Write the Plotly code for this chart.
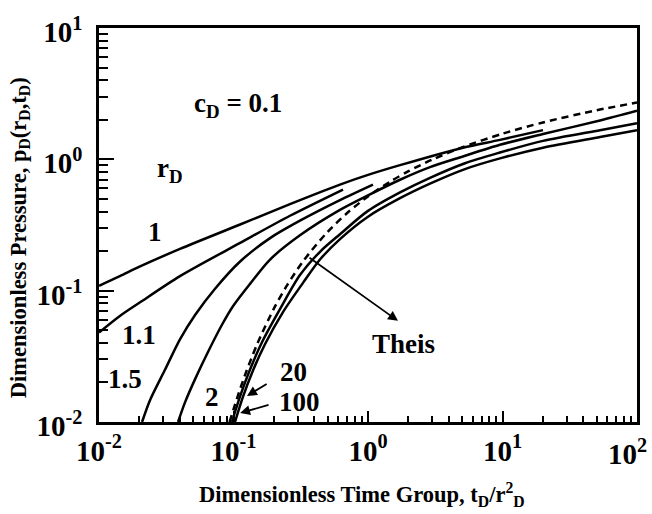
import numpy as np
import plotly.graph_objects as go

# ---- data (x = tD/rD^2, y = pD) ----
t_r1 = [0.01, 0.0143, 0.0202, 0.04, 0.112, 0.263, 0.619, 1.0, 1.73, 5.08, 9.58, 20.0]
p_r1 = [0.109, 0.129, 0.153, 0.208, 0.319, 0.456, 0.642, 0.761, 0.903, 1.227, 1.406, 1.668]

t_r11 = [0.01, 0.0143, 0.0202, 0.04, 0.112, 0.263, 0.652]
p_r11 = [0.048, 0.0642, 0.0815, 0.129, 0.231, 0.372, 0.589]

t_r15 = [0.0209, 0.0239, 0.031, 0.04, 0.0518, 0.0729, 0.112, 0.187, 0.312, 0.619, 1.089]
p_r15 = [0.0100, 0.0146, 0.0251, 0.0426, 0.0653, 0.1035, 0.1668, 0.2512, 0.341, 0.489, 0.642]

t_r2 = [0.0387, 0.0436, 0.0518, 0.0646, 0.0821, 0.0991, 0.1327, 0.187, 0.312, 0.619,
        1.035, 1.73, 2.89, 5.08, 9.58, 20.0, 53.1, 100.0]
p_r2 = [0.0100, 0.0141, 0.0212, 0.0341, 0.055, 0.0761, 0.1127, 0.1726, 0.264, 0.412,
        0.541, 0.699, 0.872, 1.052, 1.291, 1.558, 1.978, 2.346]

t_r20 = [0.0974, 0.1117, 0.1327, 0.1629, 0.2216, 0.312, 0.4395, 0.619, 1.0, 1.73,
         2.89, 5.26, 9.58, 20.0, 53.1, 100.0]
p_r20 = [0.0100, 0.0156, 0.0251, 0.0405, 0.0723, 0.1314, 0.1978, 0.269, 0.405, 0.560,
         0.723, 0.934, 1.127, 1.382, 1.668, 1.880]

t_r100 = [0.1026, 0.1177, 0.1396, 0.1714, 0.2333, 0.3286, 0.4395, 0.619, 1.0, 1.73,
          2.89, 5.26, 9.58, 20.0, 53.1, 100.0]
p_r100 = [0.0100, 0.0156, 0.0247, 0.0391, 0.0687, 0.1146, 0.1726, 0.247, 0.366, 0.506,
          0.653, 0.843, 1.017, 1.227, 1.480, 1.668]

t_theis = [0.0935, 0.1, 0.11, 0.125, 0.15, 0.2, 0.25, 0.333, 0.5, 0.7, 1.0, 1.5, 2.0,
           3.0, 5.0, 10.0, 20.0, 50.0, 100.0]
p_theis = [0.0100, 0.01246, 0.0169, 0.02445, 0.0392, 0.0733, 0.1097, 0.1701, 0.2799,
           0.390, 0.5222, 0.687, 0.8117, 0.9947, 1.234, 1.568, 1.909, 2.363, 2.707]

x_tick_vals = [0.01, 0.1, 1, 10, 100]
x_tick_text = ["10<sup>-2</sup>", "10<sup>-1</sup>", "10<sup>0</sup>", "10<sup>1</sup>", ""]
y_tick_vals = [0.01, 0.1, 1, 10]
y_tick_text = ["10<sup>-2</sup>", "10<sup>-1</sup>", "10<sup>0</sup>", "10<sup>1</sup>"]

FONT = "Liberation Serif"
TICK_SIZE = 29

fig = go.Figure()
series = [
    (t_r1, p_r1, "solid"), (t_r11, p_r11, "solid"), (t_r15, p_r15, "solid"),
    (t_r2, p_r2, "solid"), (t_r20, p_r20, "solid"), (t_r100, p_r100, "solid"),
    (t_theis, p_theis, "7px,5px"),
]
for t, p, dash in series:
    fig.add_trace(go.Scatter(
        x=t, y=p, mode="lines",
        line=dict(color="black", width=2.5, dash=dash, shape="spline", smoothing=0.8),
        showlegend=False, hoverinfo="skip"))

minor_x = [k * 10.0 ** e for e in range(-2, 2) for k in range(2, 10)]
minor_y = [k * 10.0 ** e for e in range(-2, 1) for k in range(2, 10)]

axis_common = dict(
    type="log", showline=True, linecolor="black", linewidth=2.5, mirror=True,
    ticks="inside", tickwidth=2, tickcolor="black", showgrid=False, zeroline=False,
    tickmode="array", ticklabeloverflow="allow",
    tickfont=dict(family=FONT, size=TICK_SIZE, color="black", weight="bold"),
)

fig.update_xaxes(**axis_common, range=[-2, 2], ticklen=11, ticklabelstandoff=1,
                 tickvals=x_tick_vals, ticktext=x_tick_text,
                 minor=dict(ticks="inside", ticklen=6, tickwidth=1.8, tickcolor="black",
                            tickmode="array", tickvals=minor_x, showgrid=False))
fig.update_yaxes(**axis_common, range=[-2, 1], ticklen=15, ticklabelstandoff=8,
                 ticklabelshift=4,
                 tickvals=y_tick_vals, ticktext=y_tick_text,
                 minor=dict(ticks="inside", ticklen=9, tickwidth=1.8, tickcolor="black",
                            tickmode="array", tickvals=minor_y, showgrid=False))

L = np.log10
ann = []
def label(txt, x, y, size=27):
    ann.append(dict(text="<b>" + txt + "</b>", x=L(x), y=L(y), xref="x", yref="y",
                    xanchor="center", yanchor="middle",
                    showarrow=False, font=dict(family=FONT, size=size, color="black")))

label("c<sub>D</sub> = 0.1", 0.108, 2.6)
label("r<sub>D</sub>", 0.0337, 0.83)
label("1", 0.0261, 0.278)
label("1.1", 0.0198, 0.0456)
label("1.5", 0.0156, 0.0212)
label("2", 0.0692, 0.0156)
label("20", 0.277, 0.0239)
label("100", 0.312, 0.0141)
label("Theis", 1.85, 0.0392)

def arrow(xh, yh, xt, yt):
    ann.append(dict(text="", x=L(xh), y=L(yh), ax=L(xt), ay=L(yt),
                    xref="x", yref="y", axref="x", ayref="y", showarrow=True,
                    arrowhead=2, arrowsize=1.1, arrowwidth=1.8, arrowcolor="black",
                    standoff=0, startstandoff=0))

arrow(0.126, 0.0158, 0.181, 0.0198)
arrow(0.112, 0.0117, 0.187, 0.0136)
arrow(1.67, 0.0589, 0.358, 0.1815)

# last x tick label, kept inside the page like in the reference
ann.append(dict(text="<b>10<sup>2</sup></b>", x=0.983, y=-0.075, xref="paper", yref="paper",
                xanchor="center", yanchor="middle", showarrow=False,
                font=dict(family=FONT, size=TICK_SIZE, color="black")))

# axis titles
ann.append(dict(text="<b>Dimensionless Time Group, t<sub>D</sub>/r<sup>2</sup><sub>D</sub></b>",
                x=0.489, y=-0.185, xref="paper", yref="paper", showarrow=False,
                xanchor="center", yanchor="middle",
                font=dict(family=FONT, size=22.5, color="black")))
ann.append(dict(text="<b>Dimensionless Pressure, p<sub>D</sub>(r<sub>D</sub>,t<sub>D</sub>)</b>",
                x=-0.147, y=0.469, xref="paper", yref="paper", showarrow=False, textangle=-90,
                xanchor="center", yanchor="middle",
                font=dict(family=FONT, size=22.5, color="black")))

fig.update_layout(
    width=652, height=514,
    margin=dict(l=99, r=15, t=17, b=92),
    paper_bgcolor="white", plot_bgcolor="white",
    annotations=ann,
)

fig.write_html("out.html", config={"displayModeBar": False},
               post_script="document.body.style.margin='0px';")
